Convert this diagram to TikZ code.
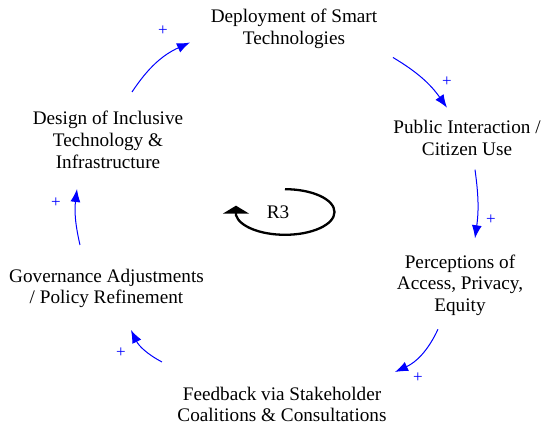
\documentclass[tikz,border=0pt]{standalone}
\usepackage{fontspec}
\setmainfont{Liberation Serif}
\newfontfamily\cldfont{Liberation Serif}
\usetikzlibrary{positioning}
\usetikzlibrary{arrows.meta}

\begin{document}
\begin{tikzpicture}[x=1pt, y=1pt, on grid,
      cldvar/.style = {align=center, inner sep=0pt,
         font=\cldfont\fontsize{19.2}{21.7}\selectfont},
      link/.style = {blue, line width=1pt,
         -{Latex[length=13pt,width=10pt]}},
      polarity/.style = {blue, inner sep=0pt,
         font=\cldfont\fontsize{17}{17}\selectfont},
      loopline/.style = {black, line width=2.3pt,
         -{Triangle[length=8pt,width=26pt]}}]

      \useasboundingbox (0,0) rectangle (550,430);

      % variables
      \node[cldvar] (deploy)   at (294,401.5) {Deployment of Smart\\Technologies};
      \node[cldvar] (public)   at (467,292.3) {Public Interaction /\\Citizen Use};
      \node[cldvar] (percep)   at (460,144.7) {Perceptions of\\Access, Privacy,\\Equity};
      \node[cldvar] (feedback) at (282,25.7)  {Feedback via Stakeholder\\Coalitions \& Consultations};
      \node[cldvar] (govern)   at (106.5,141.5) {Governance Adjustments\\/ Policy Refinement};
      \node[cldvar] (design)   at (108,290)   {Design of Inclusive\\Technology \&\\Infrastructure};

      % link ends
      \coordinate[above right=48pt and 24pt of design]      (design-out);
      \coordinate[below left=14pt and 104pt of deploy]      (deploy-in);
      \coordinate[below right=29pt and 99pt of deploy]      (deploy-out);
      \coordinate[above left=30pt and 20pt of public]       (public-in);
      \coordinate[below right=32pt and 8pt of public]       (public-out);
      \coordinate[above right=47pt and 15pt of percep]      (percep-in);
      \coordinate[below left=44pt and 22pt of percep]       (percep-out);
      \coordinate[above right=32.3pt and 113pt of feedback] (feedback-in);
      \coordinate[above left=42.3pt and 120pt of feedback]  (feedback-out);
      \coordinate[below right=41.5pt and 24.5pt of govern]  (govern-in);
      \coordinate[above left=43.5pt and 26.5pt of govern]   (govern-out);
      \coordinate[below left=49pt and 31pt of design]       (design-in);

      % causal links
      \draw[link] (design-out)   to[bend left=16] (deploy-in);
      \draw[link] (deploy-out)   to[bend left=12] (public-in);
      \draw[link] (public-out)   to[bend left=8]  (percep-in);
      \draw[link] (percep-out)   to[bend left=20] (feedback-in);
      \draw[link] (feedback-out) to[bend left=18] (govern-in);
      \draw[link] (govern-out)   to[bend left=10] (design-in);

      % polarities
      \node[polarity, above left=7pt and 22pt of deploy-in]    (plus1) {+};
      \node[polarity, above=21pt of public-in]                 (plus2) {+};
      \node[polarity, above right=14pt and 11pt of percep-in]  (plus3) {+};
      \node[polarity, below right=1pt and 18pt of feedback-in] (plus4) {+};
      \node[polarity, below left=18pt and 5pt of govern-in]    (plus5) {+};
      \node[polarity, below left=9pt and 16pt of design-in]    (plus6) {+};

      % loop R3
      \coordinate (r3-centre) at (285,218);
      \node[cldvar] (r3) at (278,217.5) {R3};
      \draw[loopline] ([yshift=22.8pt]r3-centre)
         arc[start angle=90, end angle=-172, x radius=49.5pt, y radius=22.8pt]
         -- ++(0,9.5);

\end{tikzpicture}
\end{document}
